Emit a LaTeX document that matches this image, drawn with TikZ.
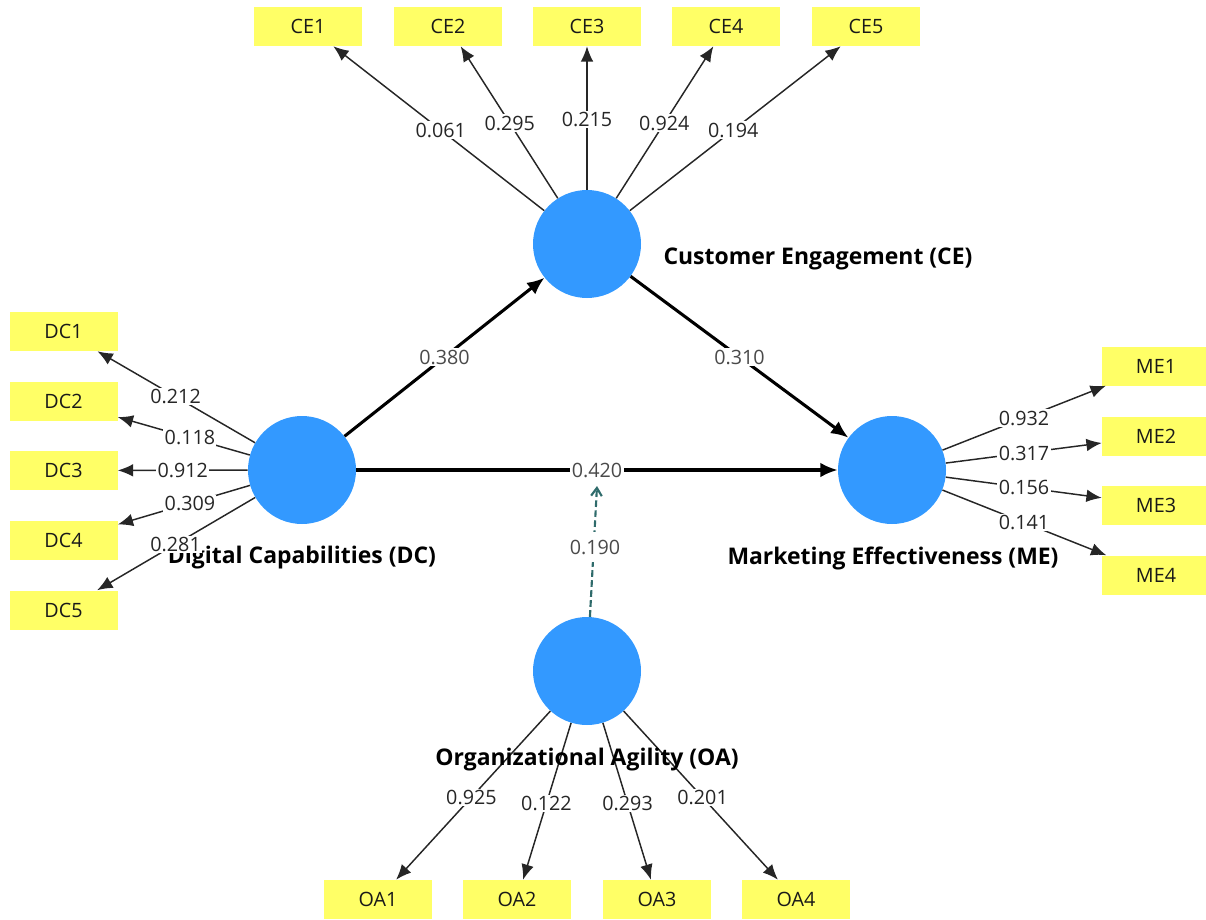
\documentclass[tikz,border=0pt]{standalone}
\usepackage{fontspec}
\setmainfont{Open Sans}
\usetikzlibrary{arrows.meta,calc}
\definecolor{lvblue}{HTML}{3399FF}
\definecolor{indyellow}{HTML}{FFFF66}
\definecolor{modteal}{HTML}{2F6B6B}
\definecolor{pathgray}{HTML}{4A4A4A}
\begin{document}
\begin{tikzpicture}[x=0.75pt,y=-0.75pt,
 latent/.style={circle,fill=lvblue,minimum size=81pt,inner sep=0pt},
 indicator/.style={rectangle,fill=indyellow,minimum width=81pt,minimum height=29.25pt,inner sep=0pt,font=\fontsize{14.8}{17}\selectfont,text=black!90},
 loading/.style={draw=black!85,line width=1.1pt,-{Latex[length=11.5pt,width=9.5pt]}},
 structural/.style={draw=black,line width=2.3pt,-{Latex[length=13pt,width=11pt]}},
 loadlabel/.style={fill=white,inner sep=1pt,font=\fontsize{14.8}{17}\selectfont,text=black!85},
 pathlabel/.style={fill=white,inner sep=1.5pt,font=\fontsize{14.8}{17}\selectfont,text=pathgray},
 lvname/.style={font=\bfseries\fontsize{17.2}{20}\selectfont},
 moderation/.style={draw=modteal,line width=1.6pt,dash pattern=on 5pt off 2.5pt,-{Straight Barb[length=6pt,width=8pt]}}
]
\useasboundingbox (0,0) rectangle (1206,920);
% latent variables
\node[latent] (CE) at (587,244) {};
\node[latent] (DC) at (302,470) {};
\node[latent] (ME) at (892,470) {};
\node[latent] (OA) at (587,671) {};
% indicators
\node[indicator] (CE1) at (308,26.5) {CE1};
\node[indicator] (CE2) at (448,26.5) {CE2};
\node[indicator] (CE3) at (587,26.5) {CE3};
\node[indicator] (CE4) at (726,26.5) {CE4};
\node[indicator] (CE5) at (866,26.5) {CE5};
\node[indicator] (DC1) at (63.5,331.5) {DC1};
\node[indicator] (DC2) at (63.5,401.5) {DC2};
\node[indicator] (DC3) at (63.5,470.5) {DC3};
\node[indicator] (DC4) at (63.5,540.5) {DC4};
\node[indicator] (DC5) at (63.5,610) {DC5};
\node[indicator] (ME1) at (1156,366) {ME1};
\node[indicator] (ME2) at (1156,436) {ME2};
\node[indicator] (ME3) at (1156,505) {ME3};
\node[indicator] (ME4) at (1156,575) {ME4};
\node[indicator] (OA1) at (378,899.5) {OA1};
\node[indicator] (OA2) at (517,899.5) {OA2};
\node[indicator] (OA3) at (657,899.5) {OA3};
\node[indicator] (OA4) at (796,899.5) {OA4};
% loadings
\foreach \i in {1,...,5} {\draw[loading] (CE) -- (CE\i); \draw[loading] (DC) -- (DC\i);}
\foreach \i in {1,...,4} {\draw[loading] (ME) -- (ME\i); \draw[loading] (OA) -- (OA\i);}
% structural paths
\draw[structural] (DC) -- (CE);
\draw[structural] (CE) -- (ME);
\draw[structural] (DC) -- (ME);
\coordinate (modtip) at (597,486);
\draw[moderation] (OA) -- (modtip);
% latent names
\node[lvname] (CEname) at (818,259) {Customer Engagement (CE)};
\node[lvname] (DCname) at (302,558) {Digital Capabilities (DC)};
\node[lvname] (MEname) at (893,558) {Marketing Effectiveness (ME)};
\node[lvname] (OAname) at (587,760) {Organizational Agility (OA)};
% loading labels
\node[loadlabel] at ($(CE)!0.524!(CE1)$) {0.061};
\node[loadlabel] at ($(CE)!0.556!(CE2)$) {0.295};
\node[loadlabel] at ($(CE)!0.572!(CE3)$) {0.215};
\node[loadlabel] at ($(CE)!0.556!(CE4)$) {0.924};
\node[loadlabel] at ($(CE)!0.524!(CE5)$) {0.194};
\node[loadlabel] at ($(DC)!0.53!(DC1)$) {0.212};
\node[loadlabel] at ($(DC)!0.47!(DC2)$) {0.118};
\node[loadlabel] at ($(DC)!0.5!(DC3)$) {0.912};
\node[loadlabel] at ($(DC)!0.47!(DC4)$) {0.309};
\node[loadlabel] at ($(DC)!0.53!(DC5)$) {0.281};
\node[loadlabel] at ($(ME)!0.5!(ME1)$) {0.932};
\node[loadlabel] at ($(ME)!0.5!(ME2)$) {0.317};
\node[loadlabel] at ($(ME)!0.5!(ME3)$) {0.156};
\node[loadlabel] at ($(ME)!0.5!(ME4)$) {0.141};
\node[loadlabel] at ($(OA)!0.553!(OA1)$) {0.925};
\node[loadlabel] at ($(OA)!0.58!(OA2)$) {0.122};
\node[loadlabel] at ($(OA)!0.58!(OA3)$) {0.293};
\node[loadlabel] at ($(OA)!0.553!(OA4)$) {0.201};
% path labels
\node[pathlabel] at ($(DC)!0.5!(CE)$) {0.380};
\node[pathlabel] at ($(CE)!0.5!(ME)$) {0.310};
\node[pathlabel] at ($(DC)!0.5!(ME)$) {0.420};
\node[pathlabel,inner ysep=6pt] at (595,547) {0.190};
\end{tikzpicture}
\end{document}
